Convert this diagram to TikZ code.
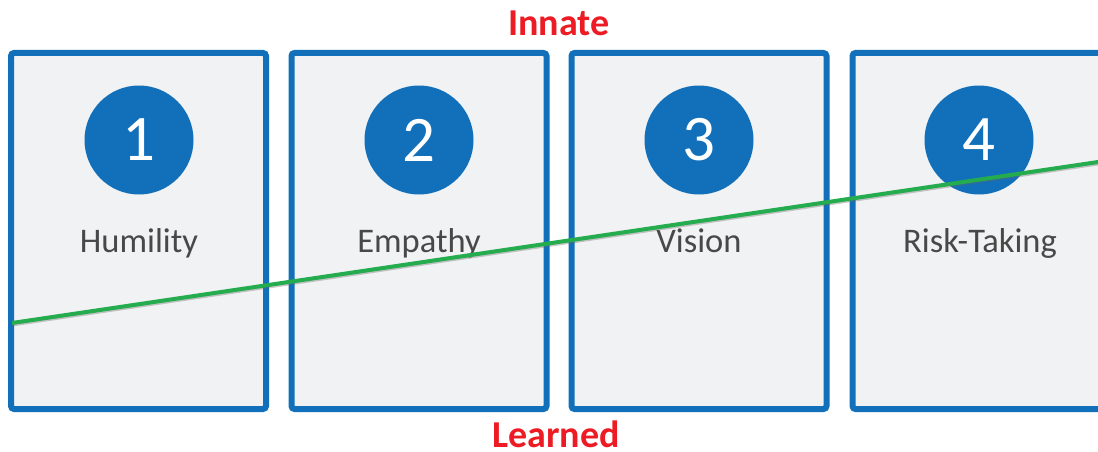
\documentclass[tikz,border=0pt]{standalone}
\usepackage{fontspec}
\setmainfont{Carlito}
\definecolor{boxblue}{RGB}{17,112,185}
\definecolor{boxgray}{RGB}{241,242,243}
\definecolor{linegreen}{RGB}{36,172,78}
\definecolor{textred}{RGB}{237,28,36}
\definecolor{textgray}{RGB}{72,72,72}
\begin{document}
\begin{tikzpicture}[x=1pt, y=-1pt]
    \clip (0,0) rectangle (1098,452);

    \begin{scope}[every node/.style={draw=boxblue, fill=boxgray, line width=6pt, rounded corners=3pt, minimum width=255pt, minimum height=356pt, inner sep=0pt}]
        \node (b1) at (138.5,231) {};
        \node (b2) at (419,231) {};
        \node (b3) at (699,231) {};
        \node (b4) at (980,231) {};
    \end{scope}

    \begin{scope}[every node/.style={circle, fill=boxblue, text=white, minimum size=109pt, inner sep=0pt, font=\fontsize{65}{65}\selectfont}]
        \node (c1) at (139,140) {1};
        \node (c2) at (419,140) {2};
        \node (c3) at (699,140) {3};
        \node (c4) at (979,140) {4};
    \end{scope}

    \begin{scope}[every node/.style={anchor=base, text=textgray, inner sep=0pt, font=\fontsize{34.5}{35}\selectfont}]
        \node (l1) at (139,252) {Humility};
        \node (l2) at (419,252) {Empathy};
        \node (l3) at (699,252) {Vision};
        \node (l4) at (980,252) {Risk-Taking};
    \end{scope}

    \coordinate (low) at (12,323);
    \coordinate (high) at (1098,162);
    \draw [black!60, opacity=0.35, line width=3pt] ([yshift=-2pt]low) -- ([yshift=-2pt]high);
    \draw [linegreen, line width=4pt] (low) -- (high);

    \begin{scope}[every node/.style={anchor=base, inner sep=0pt, text=textred, font=\bfseries\fontsize{38}{38}\selectfont}]
        \node (innate) at (559,36) {Innate};
        \node (learned) at (556,447) {Learned};
    \end{scope}
\end{tikzpicture}
\end{document}
